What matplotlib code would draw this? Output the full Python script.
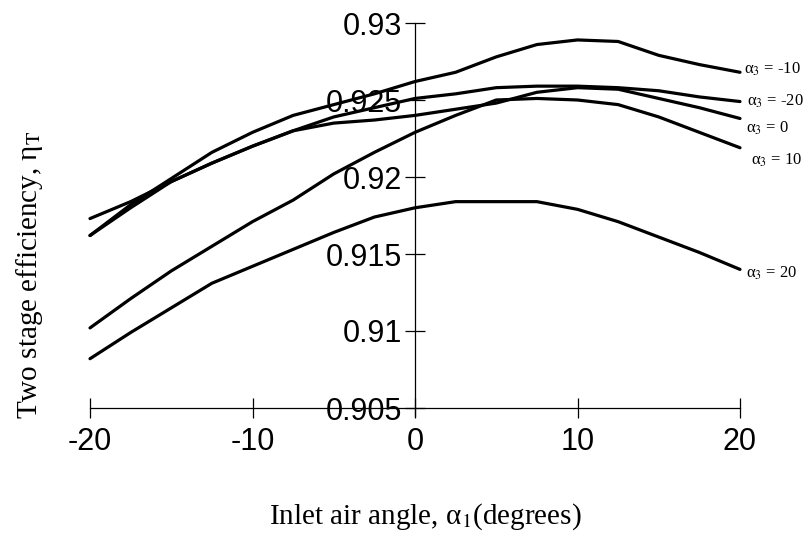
import matplotlib
matplotlib.use("Agg")
import matplotlib.pyplot as plt

plt.rcParams['mathtext.fontset'] = 'stix'

# ---- data ----
inlet_angle = [-20, -17.5, -15, -12.5, -10, -7.5, -5, -2.5, 0, 2.5, 5, 7.5, 10, 12.5, 15, 17.5, 20]

eff_a3_m10 = [0.9162, 0.9182, 0.9199, 0.9216, 0.9229, 0.9240, 0.9247, 0.9254, 0.9262,
              0.9268, 0.9278, 0.9286, 0.9289, 0.9288, 0.9279, 0.9273, 0.9268]
eff_a3_m20 = [0.9162, 0.9180, 0.9197, 0.9209, 0.9220, 0.9230, 0.9239, 0.9245, 0.9251,
              0.9254, 0.9258, 0.9259, 0.9259, 0.9258, 0.9256, 0.9252, 0.9249]
eff_a3_0 = [0.9173, 0.9184, 0.9197, 0.9209, 0.9220, 0.9230, 0.9235, 0.9237, 0.9240,
            0.9244, 0.9248, 0.9255, 0.9258, 0.9257, 0.9251, 0.9245, 0.9238]
eff_a3_10 = [0.9102, 0.9121, 0.9139, 0.9155, 0.9171, 0.9185, 0.9202, 0.9216, 0.9229,
             0.9240, 0.9250, 0.9251, 0.9250, 0.9247, 0.9239, 0.9229, 0.9219]
eff_a3_20 = [0.9082, 0.9099, 0.9115, 0.9131, 0.9142, 0.9153, 0.9164, 0.9174, 0.9180,
             0.9184, 0.9184, 0.9184, 0.9179, 0.9171, 0.9161, 0.9151, 0.9140]

series = [
    (eff_a3_m10, 'α$_3$ = -10'),
    (eff_a3_m20, 'α$_3$ = -20'),
    (eff_a3_0, 'α$_3$ = 0'),
    (eff_a3_10, 'α$_3$ = 10'),
    (eff_a3_20, 'α$_3$ = 20'),
]

x_ticks = [-20, -10, 0, 10, 20]
x_tick_labels = ['-20', '-10', '0', '10', '20']
y_ticks = [0.905, 0.91, 0.915, 0.92, 0.925, 0.93]
y_tick_labels = ['0.905', '0.91', '0.915', '0.92', '0.925', '0.93']

# ---- figure ----
W, H = 807, 541
fig = plt.figure(figsize=(W / 100, H / 100), dpi=100)
left_px, right_px = 90, 740
top_px, bottom_px = 23, 415.7
ax = fig.add_axes([left_px / W, 1 - bottom_px / H, (right_px - left_px) / W, (bottom_px - top_px) / H])
ax.set_xlim(-20, 20)
ax.set_ylim(0.9045, 0.93)

# label offsets (in points) relative to the line end
label_offsets = [(3, 2), (5, 0), (4, -7), (8, -9), (4, -3)]
for (vals, lab), (dx, dy) in zip(series, label_offsets):
    ax.plot(inlet_angle, vals, color='black', lw=2.3, clip_on=False, solid_capstyle='round')
    ax.annotate(lab, xy=(inlet_angle[-1], vals[-1]), xytext=(dx, dy), textcoords='offset points',
                ha='left', va='center', fontsize=12, family='Liberation Serif', annotation_clip=False)

for s in ['top', 'right']:
    ax.spines[s].set_visible(False)
ax.spines['left'].set_position(('data', 0))
ax.spines['bottom'].set_position(('data', 0.905))
ax.spines['left'].set_linewidth(0.9)
ax.spines['bottom'].set_linewidth(0.9)

ax.set_xticks(x_ticks)
ax.set_xticklabels(x_tick_labels)
ax.set_yticks(y_ticks)
ax.set_yticklabels(y_tick_labels)
ax.tick_params(axis='both', direction='inout', length=15, width=0.9, labelsize=22)
ax.tick_params(axis='x', pad=6)
ax.tick_params(axis='y', pad=2)
for t in ax.get_xticklabels() + ax.get_yticklabels():
    t.set_family('Liberation Sans')

fig.text(425 / W, 1 - 517 / H, 'Inlet air angle, α$_1$(degrees)', ha='center', va='center',
         fontsize=21, family='Liberation Serif')
fig.text(30 / W, 1 - 275 / H, 'Two stage efficiency, η$_\\mathrm{T}$', ha='center', va='center',
         rotation=90, fontsize=21, family='Liberation Serif')

fig.savefig('out.png', dpi=100)
